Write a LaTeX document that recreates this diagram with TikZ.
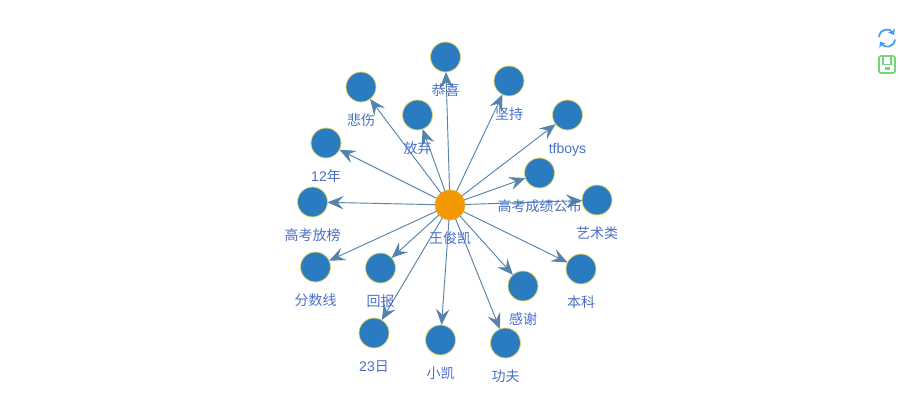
\documentclass[tikz,border=0pt]{standalone}
\usepackage{fontspec}
\setmainfont{Liberation Sans}
\newfontfamily\cjk{Noto Sans CJK SC}
\usetikzlibrary{arrows.meta, positioning}
\definecolor{blueA}{HTML}{2A7BBF}
\definecolor{blueB}{HTML}{5583AB}
\definecolor{blueC}{HTML}{4A6FC8}
\definecolor{blueD}{HTML}{3D9BF5}
\definecolor{orangeA}{HTML}{F39800}
\definecolor{yellowA}{HTML}{E2D96A}
\definecolor{greenA}{HTML}{73D67A}
\tikzset{
  leaf/.style={
    circle, draw=yellowA, fill=blueA, line width=0.6pt,
    inner sep=0pt, outer sep=0pt, minimum size=22.5pt
  },
  hub/.style={leaf, draw=yellowA!60!orangeA, fill=orangeA},
  lab/.style={
    inner sep=0pt, text=blueC, font=\cjk\fontsize{10.5}{12}\selectfont,
    text height=8pt, text depth=2pt
  },
  link/.style={
    -{Stealth[length=12pt, width=10pt, inset=4.5pt]},
    line width=0.7pt, color=blueB
  },
  icon/.style={line width=1.3pt}
}
\begin{document}
\begin{tikzpicture}[x=0.75pt, y=-0.75pt, node distance=9.2pt]
  \useasboundingbox (0,0) rectangle (900,410);
  % nodes
  \node[hub] (wang) at (450,205) {};
  \node[leaf] (gongxi) at (445.5,57) {};
  \node[leaf] (jianchi) at (509,81) {};
  \node[leaf] (tfboys) at (567.5,115) {};
  \node[leaf] (chengji) at (539.5,173) {};
  \node[leaf] (yishu) at (597,200) {};
  \node[leaf] (beishang) at (361,87) {};
  \node[leaf] (fangqi) at (417.5,115) {};
  \node[leaf] (nian) at (326,143) {};
  \node[leaf] (fangbang) at (312.5,202) {};
  \node[leaf] (fenshu) at (315.5,267) {};
  \node[leaf] (huibao) at (380.5,268) {};
  \node[leaf] (ri) at (374,333) {};
  \node[leaf] (xiaokai) at (440.5,340) {};
  \node[leaf] (gongfu) at (505.5,343) {};
  \node[leaf] (ganxie) at (523,286) {};
  \node[leaf] (benke) at (581,269) {};
  % links
  \draw[link] (wang) -- (gongxi);
  \draw[link] (wang) -- (jianchi);
  \draw[link] (wang) -- (tfboys);
  \draw[link] (wang) -- (chengji);
  \draw[link] (wang) -- (yishu);
  \draw[link] (wang) -- (beishang);
  \draw[link] (wang) -- (fangqi);
  \draw[link] (wang) -- (nian);
  \draw[link] (wang) -- (fangbang);
  \draw[link] (wang) -- (fenshu);
  \draw[link] (wang) -- (huibao);
  \draw[link] (wang) -- (ri);
  \draw[link] (wang) -- (xiaokai);
  \draw[link] (wang) -- (gongfu);
  \draw[link] (wang) -- (ganxie);
  \draw[link] (wang) -- (benke);
  % labels
  \node[lab, below=of wang] (wangT) {王俊凯};
  \node[lab, below=of gongxi] (gongxiT) {恭喜};
  \node[lab, below=of jianchi] (jianchiT) {坚持};
  \node[lab, below=of tfboys] (tfboysT) {\rmfamily tfboys};
  \node[lab, below=of chengji] (chengjiT) {高考成绩公布};
  \node[lab, below=of yishu] (yishuT) {艺术类};
  \node[lab, below=of beishang] (beishangT) {悲伤};
  \node[lab, below=of fangqi] (fangqiT) {放弃};
  \node[lab, below=of nian] (nianT) {{\rmfamily 12}年};
  \node[lab, below=of fangbang] (fangbangT) {高考放榜};
  \node[lab, below=of fenshu] (fenshuT) {分数线};
  \node[lab, below=of huibao] (huibaoT) {回报};
  \node[lab, below=of ri] (riT) {{\rmfamily 23}日};
  \node[lab, below=of xiaokai] (xiaokaiT) {小凯};
  \node[lab, below=of gongfu] (gongfuT) {功夫};
  \node[lab, below=of ganxie] (ganxieT) {感谢};
  \node[lab, below=of benke] (benkeT) {本科};
  % toolbox icons
  \draw[icon, blueD, -{Stealth[length=4pt, width=6pt]}]
    (879,37) .. controls (880,28) and (890,28) .. (894,35);
  \draw[icon, blueD, -{Stealth[length=4pt, width=6pt]}]
    (895,39.5) .. controls (894,48) and (884,48) .. (880,41.5);
  \draw[icon, greenA, rounded corners=1.5pt]
    (879,56) rectangle (895,73);
  \draw[icon, greenA] (883,56) -- (883,64.5) -- (891,64.5) -- (891,56);
  \fill[greenA] (884.5,67) rectangle (889.5,70.5);
\end{tikzpicture}
\end{document}
